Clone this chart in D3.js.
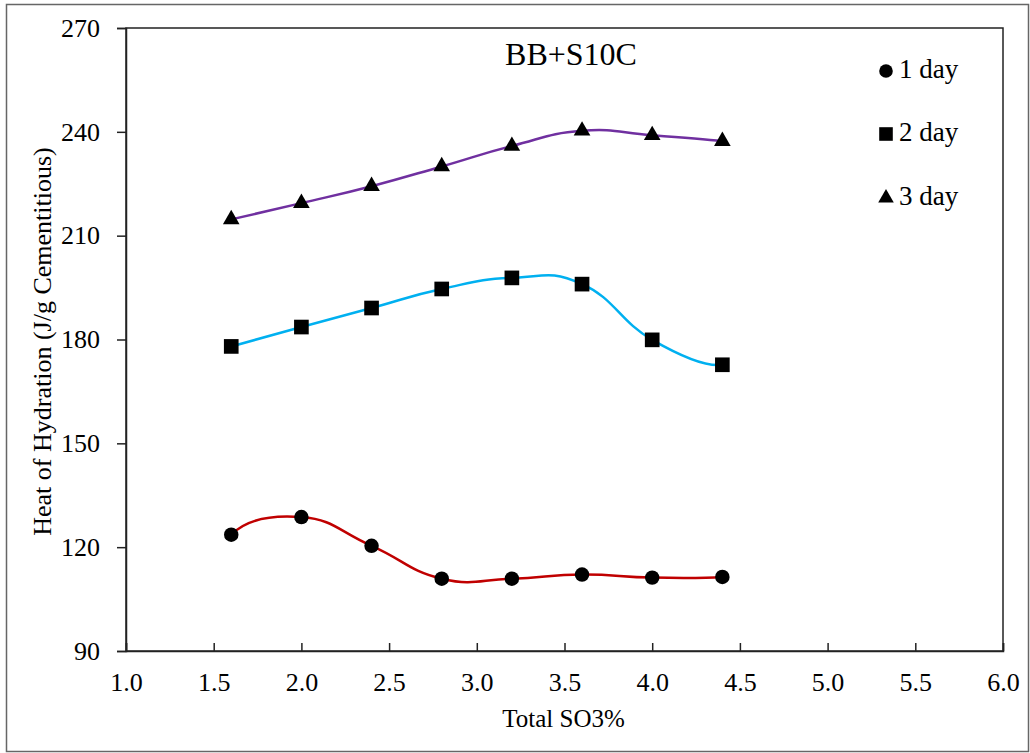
<!DOCTYPE html>
<html lang="en">
<head>
  <meta charset="UTF-8">
  <title>BB+S10C Heat of Hydration</title>
  <script src="https://d3js.org/d3.v7.min.js"></script>
  <style>
    body { margin: 0; background: #fff; }
    text { font-family: "Liberation Serif", "Times New Roman", serif; fill: #000; }
  </style>
</head>
<body>
<div id="chart"></div>
<script>
// data
var so3 = [1.6, 2.0, 2.4, 2.8, 3.2, 3.6, 4.0, 4.4];
var day1 = [123.6, 128.7, 120.4, 110.9, 110.9, 112.1, 111.2, 111.4];
var day2 = [178.0, 183.6, 189.1, 194.6, 197.8, 196.0, 179.9, 172.7];
var day3 = [214.7, 219.4, 224.3, 230.0, 235.9, 240.3, 239.0, 237.3];
var seriesNames = ["1 day", "2 day", "3 day"];
var seriesColors = ["#C00000", "#00B0F0", "#7030A0"];
var xTicks = [1.0, 1.5, 2.0, 2.5, 3.0, 3.5, 4.0, 4.5, 5.0, 5.5, 6.0];
var yTicks = [90, 120, 150, 180, 210, 240, 270];

var W = 1030, H = 753;
var margin = {top: 28, right: 27, bottom: 102, left: 126};

var svg = d3.select("#chart").append("svg")
  .attr("width", W).attr("height", H);

// outer frame
svg.append("rect")
  .attr("x", 6.5).attr("y", 4.5)
  .attr("width", 1022).attr("height", 747)
  .attr("fill", "none").attr("stroke", "#666").attr("stroke-width", 1.5);

var x = d3.scaleLinear().domain([1, 6]).range([margin.left, W - margin.right]);
var y = d3.scaleLinear().domain([90, 270]).range([H - margin.bottom, margin.top]);

// plot box
svg.append("rect")
  .attr("x", x(1)).attr("y", y(270))
  .attr("width", x(6) - x(1)).attr("height", y(90) - y(270))
  .attr("fill", "none").attr("stroke", "#222").attr("stroke-width", 1.5);

// x axis
var xAxis = svg.append("g")
  .attr("transform", "translate(0," + y(90) + ")")
  .call(d3.axisBottom(x).tickValues(xTicks).tickFormat(d3.format(".1f")).tickSize(-8).tickPadding(22));
xAxis.select(".domain").attr("stroke", "#222").attr("stroke-width", 1.5);
xAxis.selectAll(".tick line").attr("stroke", "#222").attr("stroke-width", 1.5);
xAxis.selectAll("text").style("font-size", "26px");

// y axis
var yAxis = svg.append("g")
  .attr("transform", "translate(" + x(1) + ",0)")
  .call(d3.axisLeft(y).tickValues(yTicks).tickSize(9).tickPadding(17));
yAxis.select(".domain").attr("stroke", "#222").attr("stroke-width", 1.5);
yAxis.selectAll(".tick line").attr("stroke", "#222").attr("stroke-width", 1.5);
yAxis.selectAll("text").style("font-size", "26px");

// axis titles
svg.append("text")
  .attr("x", (x(1) + x(6)) / 2 - 1).attr("y", 727)
  .attr("text-anchor", "middle").style("font-size", "25px")
  .text("Total SO3%");
svg.append("text")
  .attr("transform", "translate(51," + ((y(90) + y(270)) / 2 + 2) + ") rotate(-90)")
  .attr("text-anchor", "middle").style("font-size", "26px")
  .text("Heat of Hydration (J/g Cementitious)");

// chart title
svg.append("text")
  .attr("x", 571).attr("y", 65)
  .attr("text-anchor", "middle").style("font-size", "32px")
  .text("BB+S10C");

// smoothed line like the spreadsheet one: bezier through the points,
// slightly stretched handles inside, parabolic handles at both ends
function smoothPath(pts) {
  var n = pts.length, k = 1.4;
  var t = pts.map(function(p, i) {
    if (i === 0 || i === n - 1) return [0, 0];
    return [k * (pts[i + 1][0] - pts[i - 1][0]) / 2, k * (pts[i + 1][1] - pts[i - 1][1]) / 2];
  });
  t[0] = [2 * (pts[1][0] - pts[0][0]) - t[1][0], 2 * (pts[1][1] - pts[0][1]) - t[1][1]];
  t[n - 1] = [2 * (pts[n - 1][0] - pts[n - 2][0]) - t[n - 2][0],
              2 * (pts[n - 1][1] - pts[n - 2][1]) - t[n - 2][1]];
  var p = d3.path();
  p.moveTo(pts[0][0], pts[0][1]);
  for (var i = 0; i < n - 1; i++) {
    p.bezierCurveTo(pts[i][0] + t[i][0] / 3, pts[i][1] + t[i][1] / 3,
                    pts[i + 1][0] - t[i + 1][0] / 3, pts[i + 1][1] - t[i + 1][1] / 3,
                    pts[i + 1][0], pts[i + 1][1]);
  }
  return p.toString();
}

var allSeries = [day1, day2, day3];
var symbols = [d3.symbolCircle, d3.symbolSquare, d3.symbolTriangle];
var sizes = [165, 215, 120];

allSeries.forEach(function(vals, i) {
  var pts = so3.map(function(s, j) { return [s, vals[j]]; });
  var px = pts.map(function(d) { return [x(d[0]), y(d[1])]; });
  svg.append("path")
    .attr("fill", "none")
    .attr("stroke", seriesColors[i])
    .attr("stroke-width", 2.5)
    .attr("d", smoothPath(px));
  svg.selectAll(".m" + i)
    .data(pts)
    .enter().append("path")
    .attr("class", "m" + i)
    .attr("transform", function(d) { return "translate(" + x(d[0]) + "," + y(d[1]) + ")"; })
    .attr("d", d3.symbol().type(symbols[i]).size(sizes[i]))
    .attr("fill", "#000");
});

// legend
var legendY = [71, 134, 198];
var legendSizes = [145, 185, 105];
seriesNames.forEach(function(name, i) {
  svg.append("path")
    .attr("transform", "translate(886," + legendY[i] + ")")
    .attr("d", d3.symbol().type(symbols[i]).size(legendSizes[i]))
    .attr("fill", "#000");
  svg.append("text")
    .attr("x", 899).attr("y", legendY[i] + 7)
    .style("font-size", "27px")
    .text(name);
});
</script>
</body>
</html>
